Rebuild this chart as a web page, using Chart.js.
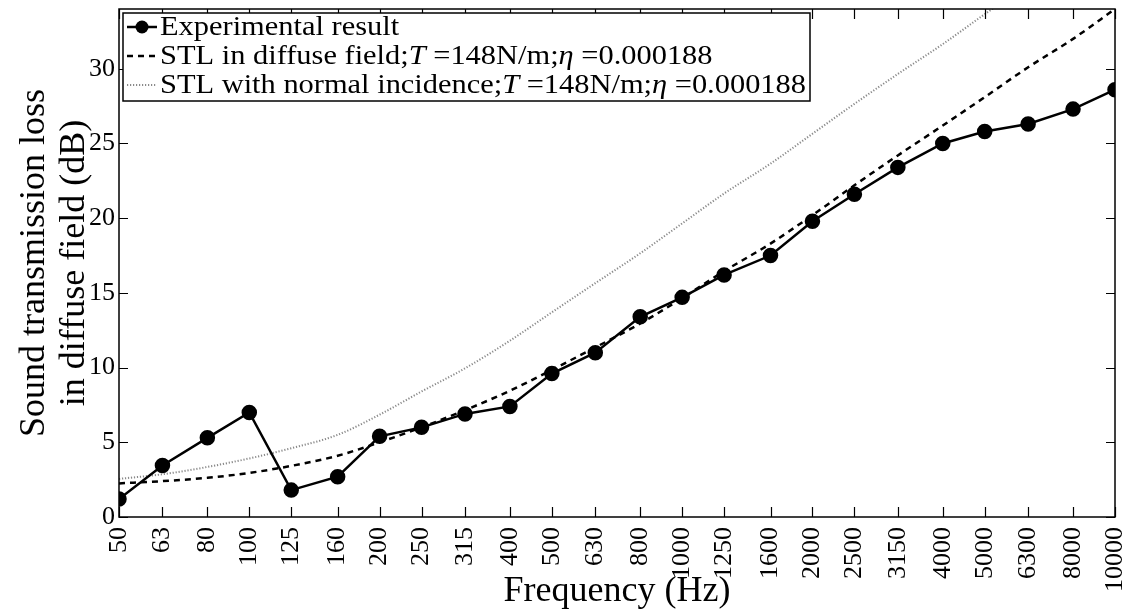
<!DOCTYPE html>
<html>
<head>
<meta charset="utf-8">
<script src="https://cdn.jsdelivr.net/npm/chart.js"></script>
<style>
  html, body { margin: 0; padding: 0; background: #fff; overflow: hidden; }
  canvas { display: block; }
</style>
</head>
<body>
<canvas id="chart" width="1127" height="615"></canvas>
<script>
// Datos
const freqs = [50, 63, 80, 100, 125, 160, 200, 250, 315, 400, 500, 630, 800, 1000, 1250, 1600, 2000, 2500, 3150, 4000, 5000, 6300, 8000, 10000];
const experimental = [1.2, 3.45, 5.3, 7.0, 1.8, 2.7, 5.4, 6.0, 6.9, 7.4, 9.6, 11.0, 13.4, 14.7, 16.2, 17.5, 19.8, 21.6, 23.4, 25.0, 25.8, 26.3, 27.3, 28.6];
const diffuse = [2.25, 2.4, 2.62, 2.95, 3.42, 4.1, 5.0, 6.0, 7.15, 8.45, 9.85, 11.35, 12.95, 14.65, 16.45, 18.3, 20.2, 22.2, 24.2, 26.2, 28.1, 30.1, 32.0, 34.0];
const normal = [2.55, 2.86, 3.35, 3.92, 4.6, 5.5, 6.85, 8.4, 9.95, 11.8, 13.7, 15.65, 17.65, 19.65, 21.65, 23.65, 25.65, 27.65, 29.65, 31.65, 33.65, 35.65, 37.65, 39.65];
const yTicks = [0, 5, 10, 15, 20, 25, 30];

const serif = "'Liberation Serif', 'DejaVu Serif', serif";

// Texto de leyenda: segmentos [texto, cursiva]
const legendRows = [
  [['Experimental result', false]],
  [['STL in diffuse field;', false], ['T', true], [' =148N/m;', false], ['η', true], [' =0.000188', false]],
  [['STL with normal incidence;', false], ['T', true], [' =148N/m;', false], ['η', true], [' =0.000188', false]]
];

const toXY = vals => freqs.map((f, i) => ({ x: f, y: vals[i] }));

// Marco, ticks hacia adentro y leyenda
const framePlugin = {
  id: 'frame',
  afterDraw(chart) {
    const ctx = chart.ctx;
    const a = chart.chartArea;
    const xs = chart.scales.x, ys = chart.scales.y;
    ctx.save();
    ctx.strokeStyle = '#000';
    ctx.lineWidth = 1.5;
    ctx.strokeRect(a.left, a.top, a.right - a.left, a.bottom - a.top);
    ctx.lineWidth = 1.2;
    ctx.beginPath();
    xs.ticks.forEach(t => {
      const px = Math.round(xs.getPixelForValue(t.value)) + 0.5;
      ctx.moveTo(px, a.bottom); ctx.lineTo(px, a.bottom - 10);
      ctx.moveTo(px, a.top); ctx.lineTo(px, a.top + 10);
    });
    ys.ticks.forEach(t => {
      const py = Math.round(ys.getPixelForValue(t.value)) + 0.5;
      ctx.moveTo(a.left, py); ctx.lineTo(a.left + 9, py);
      ctx.moveTo(a.right, py); ctx.lineTo(a.right - 9, py);
    });
    ctx.stroke();

    // leyenda (texto estirado en horizontal como en la figura original)
    const fontN = '28px ' + serif, fontI = 'italic 28px ' + serif;
    const bx = a.left + 4, by = a.top + 4;
    const textX = bx + 37;
    const rowH = 29;
    let maxW = 0;
    legendRows.forEach(row => {
      let w = 0;
      row.forEach(([s, it]) => { ctx.font = it ? fontI : fontN; w += ctx.measureText(s).width; });
      maxW = Math.max(maxW, w);
    });
    const sx = 646 / maxW;
    const bw = textX - bx + maxW * sx + 4;
    const bh = rowH * 3 + 1;
    ctx.fillStyle = '#fff';
    ctx.fillRect(bx, by, bw, bh);
    ctx.lineWidth = 1.5;
    ctx.strokeStyle = '#000';
    ctx.strokeRect(bx, by, bw, bh);

    chart.data.datasets.forEach((ds, i) => {
      const cy = by + 14 + i * rowH;
      ctx.save();
      ctx.strokeStyle = ds.borderColor;
      ctx.lineWidth = ds.borderWidth;
      ctx.setLineDash(ds.borderDash || []);
      ctx.beginPath();
      ctx.moveTo(bx + 4, cy);
      ctx.lineTo(bx + 34, cy);
      ctx.stroke();
      if (ds.pointRadius > 0) {
        ctx.setLineDash([]);
        ctx.fillStyle = ds.pointBackgroundColor;
        ctx.beginPath();
        ctx.arc(bx + 19, cy, ds.pointRadius, 0, Math.PI * 2);
        ctx.fill();
      }
      ctx.restore();
      ctx.save();
      ctx.translate(textX, cy + 1);
      ctx.scale(sx, 1);
      let x = 0;
      ctx.fillStyle = '#000';
      ctx.textBaseline = 'middle';
      legendRows[i].forEach(([s, it]) => {
        ctx.font = it ? fontI : fontN;
        ctx.fillText(s, x, 0);
        x += ctx.measureText(s).width;
      });
      ctx.restore();
    });
    ctx.restore();
  }
};

new Chart(document.getElementById('chart').getContext('2d'), {
  type: 'line',
  data: {
    datasets: [
      {
        label: 'Experimental result',
        data: toXY(experimental),
        borderColor: '#000',
        backgroundColor: '#000',
        pointBackgroundColor: '#000',
        pointBorderColor: '#000',
        borderWidth: 2.5,
        pointRadius: 6.5,
        tension: 0
      },
      {
        label: 'STL in diffuse field;T =148N/m;η =0.000188',
        data: toXY(diffuse),
        borderColor: '#000',
        borderWidth: 2.5,
        borderDash: [6, 5],
        pointRadius: 0,
        cubicInterpolationMode: 'monotone'
      },
      {
        label: 'STL with normal incidence;T =148N/m;η =0.000188',
        data: toXY(normal),
        borderColor: '#8a8a8a',
        borderWidth: 2,
        borderDash: [1.2, 1.8],
        pointRadius: 0,
        cubicInterpolationMode: 'monotone'
      }
    ]
  },
  options: {
    responsive: false,
    animation: false,
    layout: { padding: { top: 9, right: 12, left: 0, bottom: 0 } },
    plugins: {
      legend: { display: false },
      tooltip: { enabled: false }
    },
    scales: {
      x: {
        type: 'logarithmic',
        min: 50,
        max: 10000,
        grid: { display: false, drawTicks: false },
        border: { display: false },
        afterBuildTicks: s => { s.ticks = freqs.map(v => ({ value: v })); },
        afterFit: s => { s.height = 98; s.paddingLeft = 0; s.paddingRight = 0; },
        ticks: {
          autoSkip: false,
          minRotation: 90,
          maxRotation: 90,
          padding: 10,
          color: '#000',
          font: { family: serif, size: 26 },
          callback: v => String(v)
        },
        title: {
          display: true,
          text: 'Frequency (Hz)',
          color: '#000',
          font: { family: serif, size: 36, lineHeight: 1 },
          padding: { top: 0, bottom: 5 }
        }
      },
      y: {
        min: 0,
        max: 34,
        grid: { display: false, drawTicks: false },
        border: { display: false },
        afterBuildTicks: s => { s.ticks = yTicks.map(v => ({ value: v })); },
        afterFit: s => { s.width = 119; s.paddingTop = 0; s.paddingBottom = 0; },
        ticks: {
          padding: 4,
          color: '#000',
          font: { family: serif, size: 26 }
        },
        title: {
          display: true,
          text: ['Sound transmission loss', 'in diffuse field (dB)'],
          color: '#000',
          font: { family: serif, size: 36, lineHeight: 1.1 },
          padding: { top: 15, bottom: 0 }
        }
      }
    }
  },
  plugins: [framePlugin]
});
</script>
</body>
</html>
